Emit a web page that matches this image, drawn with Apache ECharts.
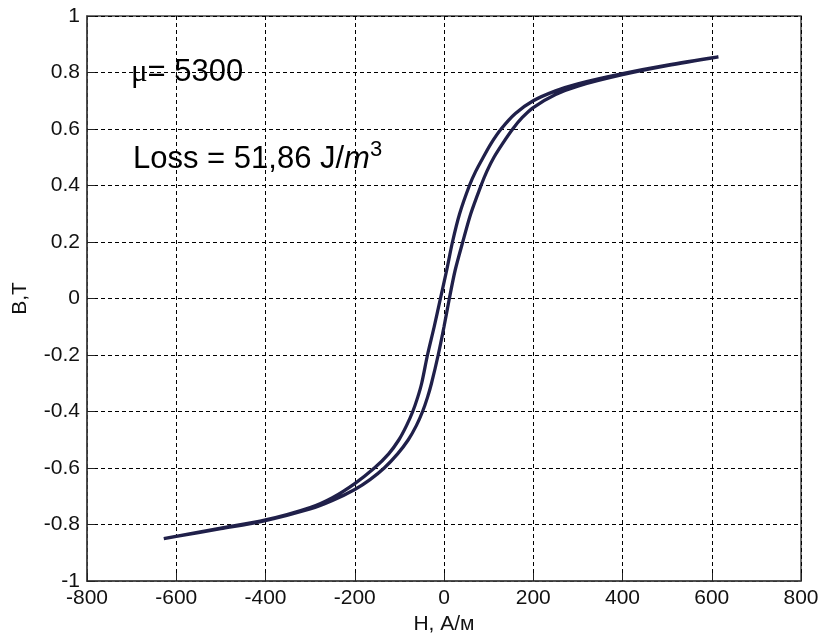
<!DOCTYPE html>
<html>
<head>
<meta charset="utf-8">
<script src="https://cdn.jsdelivr.net/npm/echarts@6/dist/echarts.min.js"></script>
<style>
  html, body { margin: 0; padding: 0; background: #fff; }
  #loop { width: 821px; height: 638px; }
</style>
</head>
<body>
<div id="loop"></div>
<script>
// ascending branch (H rising, from negative tip)
var ascH = [-628, -600, -500, -400, -300, -250, -200, -165, -134, -104, -80, -62, -48, -37, -28, -13, 0, 12, 25, 42, 60, 83, 96, 112, 132, 154, 175, 200, 250, 300, 400, 500, 615];
var ascB = [-0.850, -0.842, -0.815, -0.786, -0.745, -0.715, -0.676, -0.640, -0.600, -0.550, -0.500, -0.450, -0.400, -0.350, -0.300, -0.200, -0.100, 0.000, 0.100, 0.200, 0.300, 0.400, 0.450, 0.500, 0.550, 0.600, 0.640, 0.676, 0.722, 0.752, 0.792, 0.824, 0.855];
// descending branch (H falling, from positive tip)
var descH = [615, 500, 400, 300, 250, 200, 160, 128, 106, 88, 71, 57, 35, 19, 6, -8, -22, -37, -50, -59, -70, -84, -101, -124, -156, -200, -250, -300, -400, -500, -628];
var descB = [0.855, 0.826, 0.796, 0.760, 0.735, 0.700, 0.655, 0.600, 0.550, 0.500, 0.450, 0.400, 0.300, 0.200, 0.100, 0.000, -0.100, -0.200, -0.300, -0.350, -0.400, -0.450, -0.500, -0.550, -0.600, -0.655, -0.705, -0.740, -0.784, -0.813, -0.850];

var loopData = [];
ascH.forEach(function (h, i) { loopData.push([h, ascB[i]]); });
descH.forEach(function (h, i) { loopData.push([h, descB[i]]); });

var sans = 'Liberation Sans, Arial, sans-serif';
var gridLine = { show: true, lineStyle: { color: '#000', width: 1, type: [4, 3] } };

var chart = echarts.init(document.getElementById('loop'));
chart.setOption({
  animation: false,
  backgroundColor: '#fff',
  grid: {
    left: 87, right: 20, top: 16, bottom: 57,
    show: true, borderColor: '#444', borderWidth: 1.5,
    outerBoundsMode: 'none'
  },
  xAxis: {
    type: 'value',
    min: -800, max: 800, interval: 200,
    name: 'Н, А/м',
    nameLocation: 'middle',
    nameGap: 29,
    nameTextStyle: { fontFamily: sans, fontSize: 21, color: '#111' },
    axisLine: { show: true, onZero: false, lineStyle: { color: '#444', width: 1.5 } },
    axisTick: { show: true, inside: true, length: 8, lineStyle: { color: '#222' } },
    axisLabel: { fontFamily: sans, fontSize: 21, color: '#111', margin: 7 },
    splitLine: gridLine
  },
  yAxis: {
    type: 'value',
    min: -1, max: 1, interval: 0.2,
    name: 'В,Т',
    nameLocation: 'middle',
    nameGap: 56,
    nameRotate: 90,
    nameTextStyle: { fontFamily: sans, fontSize: 21, color: '#111' },
    axisLine: { show: true, onZero: false, lineStyle: { color: '#444', width: 1.5 } },
    axisTick: { show: true, inside: true, length: 8, lineStyle: { color: '#222' } },
    axisLabel: {
      fontFamily: sans, fontSize: 21, color: '#111', margin: 7,
      formatter: function (v) { return String(Math.round(v * 10) / 10); }
    },
    splitLine: gridLine
  },
  series: [{
    type: 'line',
    data: loopData,
    smooth: 0.3,
    showSymbol: false,
    lineStyle: { color: '#20204a', width: 3.3 }
  }],
  graphic: [
    {
      type: 'text', left: 131, top: 57, z: 10,
      style: {
        text: '{mu|μ}{n|= 5300}',
        rich: {
          mu: { fontFamily: 'Liberation Serif, Times New Roman, serif', fontSize: 31, fill: '#000' },
          n: { fontFamily: sans, fontSize: 31, fill: '#000' }
        }
      }
    },
    {
      type: 'text', left: 133, top: 139, z: 10,
      style: {
        text: '{t|Loss = 51,86 J/}{i|m}{s|3}',
        rich: {
          t: { fontFamily: sans, fontSize: 31, lineHeight: 40, fill: '#000' },
          i: { fontFamily: sans, fontSize: 31, lineHeight: 40, fontStyle: 'italic', fill: '#000' },
          s: { fontFamily: sans, fontSize: 22, lineHeight: 22, fill: '#000', verticalAlign: 'top' }
        }
      }
    }
  ]
});
</script>
</body>
</html>
